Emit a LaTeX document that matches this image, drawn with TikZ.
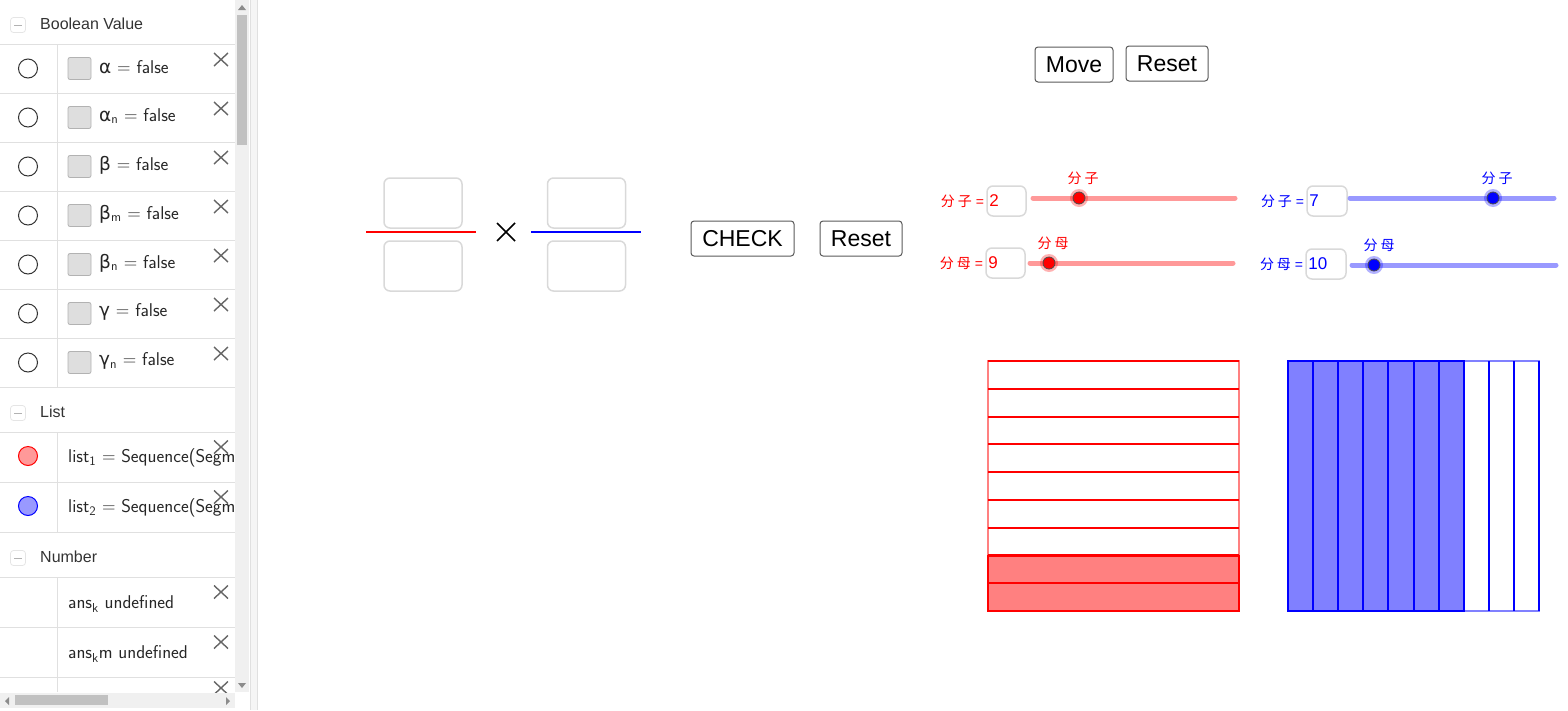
\documentclass[tikz,border=0pt]{standalone}
\usepackage{fontspec}
\setmainfont{Liberation Sans}
\newfontfamily\cjk{Noto Sans CJK SC}
\newfontfamily\grk{DejaVu Sans}
\usetikzlibrary{positioning}

\definecolor{rowline}{HTML}{E0E0E0}
\definecolor{boxline}{HTML}{D9D9D9}
\definecolor{trackgray}{HTML}{F0F0F0}
\definecolor{thumbgray}{HTML}{C1C1C1}
\definecolor{redfill}{HTML}{FF8080}
\definecolor{bluefill}{HTML}{8080FF}
\definecolor{redtrack}{HTML}{FF9999}
\definecolor{bluetrack}{HTML}{9999FF}
\definecolor{darktext}{HTML}{333333}

\tikzset{
  header/.style={anchor=west, inner sep=0pt, text=darktext, font=\fontsize{16}{19}\selectfont},
  formula/.style={anchor=west, inner sep=0pt, text=black!85, font=\sffamily\fontsize{18.5}{21}\selectfont},
  closex/.style={draw=black!60, line width=1.4pt},
  checkbox/.style={draw=black!30, fill=black!13, rounded corners=2pt, line width=0.8pt, minimum width=23pt, minimum height=22pt, inner sep=0pt},
  radio/.style={circle, draw=black!80, line width=1pt, minimum size=19pt, inner sep=0pt},
  minusbox/.style={draw=black!10, rounded corners=3pt, line width=0.8pt, minimum size=15pt, inner sep=0pt},
  inbox/.style={draw=boxline, rounded corners=6pt, line width=1.5pt, inner sep=0pt},
  button/.style={draw=black!65, rounded corners=3pt, line width=1pt, inner sep=0pt, minimum height=35pt, font=\fontsize{23}{26}\selectfont},
  sval/.style={anchor=west, inner sep=0pt, font=\fontsize{17}{20}\selectfont},
  slbl/.style={inner sep=0pt, font=\fontsize{14}{16}\selectfont},
  knob/.style={circle, draw=black!70, line width=0.8pt, minimum size=12pt, inner sep=0pt},
}

\begin{document}
\begin{tikzpicture}[x=1pt,y=-1pt]
\useasboundingbox (0,0) rectangle (1568,710);

% algebra view
\begin{scope}
  \clip (0,0) rectangle (235,692);
  % Boolean Value
  \node[minusbox] (boolmin) at (18,25) {};
  \draw[black!30,line width=1pt] ([xshift=-4pt]boolmin.center) -- ([xshift=4pt]boolmin.center);
  \node[header] (boolhead) at (40,24) {Boolean Value};
  \foreach \y in {44,93,...,387} \draw[rowline,line width=1pt] (0,\y) -- (235,\y);
  \draw[rowline,line width=1pt] (57,44) -- (57,387);
  \foreach \lbl [count=\k from 0] in {{{\grk α}},{{\grk α}\textsubscript{n}},{{\grk β}},{{\grk β}\textsubscript{m}},{{\grk β}\textsubscript{n}},{{\grk γ}},{{\grk γ}\textsubscript{n}}}{
    \pgfmathsetmacro\yc{68.5+49*\k}
    \node[radio] (radio\k) at (28,\yc) {};
    \node[checkbox] (cbox\k) at (79.5,\yc) {};
    \node[formula] (bool\k) at (99,\yc-1.5) {\lbl\ = false};
    \draw[closex] (221,\yc-9) +(-7,-6.5) -- +(7,6.5) +(-7,6.5) -- +(7,-6.5);
  }
  % List
  \node[minusbox] (listmin) at (18,413) {};
  \draw[black!30,line width=1pt] ([xshift=-4pt]listmin.center) -- ([xshift=4pt]listmin.center);
  \node[header] (listhead) at (40,412) {List};
  \foreach \y in {432,482,532} \draw[rowline,line width=1pt] (0,\y) -- (235,\y);
  \draw[rowline,line width=1pt] (57,432) -- (57,532);
  \node[radio, draw=red, fill=redtrack] (list1dot) at (28,456) {};
  \node[radio, draw=blue, fill=bluetrack] (list2dot) at (28,506) {};
  \node[formula] (list1) at (68,458) {list\textsubscript{1} = Sequence(Segment};
  \node[formula] (list2) at (68,508) {list\textsubscript{2} = Sequence(Segment};
  \draw[closex] (221,447) +(-7,-6.5) -- +(7,6.5) +(-7,6.5) -- +(7,-6.5);
  \draw[closex] (221,497) +(-7,-6.5) -- +(7,6.5) +(-7,6.5) -- +(7,-6.5);
  % Number
  \node[minusbox] (nummin) at (18,558) {};
  \draw[black!30,line width=1pt] ([xshift=-4pt]nummin.center) -- ([xshift=4pt]nummin.center);
  \node[header] (numhead) at (40,557) {Number};
  \foreach \y in {577,627,677} \draw[rowline,line width=1pt] (0,\y) -- (235,\y);
  \draw[rowline,line width=1pt] (57,577) -- (57,692);
  \node[formula] (ansk) at (68,604) {ans\textsubscript{k} undefined};
  \node[formula] (anskm) at (68,654) {ans\textsubscript{k}m undefined};
  \foreach \y in {592,642,688}
    \draw[closex] (221,\y) +(-7,-6.5) -- +(7,6.5) +(-7,6.5) -- +(7,-6.5);
\end{scope}

% scroll bars and splitter
\fill[trackgray] (235,0) rectangle (249,692);
\fill[thumbgray] (237,15) rectangle (247,145);
\fill[black!45] (238,10) -- (246,10) -- (242,5) -- cycle;
\fill[black!45] (238,683) -- (246,683) -- (242,688) -- cycle;
\fill[trackgray] (0,693) rectangle (235,708);
\fill[thumbgray] (15,695) rectangle (108,705);
\fill[black!45] (9,697) -- (9,705) -- (5,701) -- cycle;
\fill[black!45] (226,697) -- (226,705) -- (230,701) -- cycle;
\fill[black!4] (250,0) rectangle (257,710);
\draw[rowline] (250,0) -- (250,710);
\draw[rowline] (257.5,0) -- (257.5,710);

% fraction inputs
\node[inbox, minimum width=78pt, minimum height=50pt] (lnum) at (423,203) {};
\node[inbox, minimum width=78pt, minimum height=50pt] (lden) at (423,266) {};
\draw[red, line width=2pt] (366,232) -- (476,232);
\node[inbox, minimum width=78pt, minimum height=50pt] (rnum) at (586.5,203) {};
\node[inbox, minimum width=78pt, minimum height=50pt] (rden) at (586.5,266) {};
\draw[blue, line width=2pt] (531,232) -- (641,232);
\coordinate (times) at (506,232);
\draw[line width=1.5pt] (times) +(-9,-9) -- +(9,9) +(-9,9) -- +(9,-9);

% buttons
\node[button, minimum width=103pt] (check) at (742.5,238.5) {CHECK};
\node[button, minimum width=82pt, right=25pt of check] (resetchk) {Reset};
\node[button, minimum width=78pt] (move) at (1074,64.5) {Move};
\node[button, minimum width=82pt, right=12pt of move, yshift=1pt] (resetmove) {Reset};

% red sliders
\node[inbox, minimum width=39pt, minimum height=30pt] (rnumbox) at (1006.5,201) {};
\node[sval, text=red] (rnumval) at ([xshift=3pt]rnumbox.west) {2};
\node[slbl, text=red, left=2pt of rnumbox] (rnumlbl) {{\cjk 分\hspace{3pt}子} =};
\draw[redtrack, line width=5pt, line cap=round] (1033,198) -- (1235,198);
\fill[red, opacity=0.3] (1079,198) circle (9pt);
\node[knob, fill=red] (rnumknob) at (1079,198) {};
\node[slbl, text=red, above=7pt of rnumknob, xshift=4pt] (rnumtag) {\cjk 分\hspace{3pt}子};

\node[inbox, minimum width=39pt, minimum height=30pt] (rdenbox) at (1005.5,263) {};
\node[sval, text=red] (rdenval) at ([xshift=3pt]rdenbox.west) {9};
\node[slbl, text=red, left=2pt of rdenbox] (rdenlbl) {{\cjk 分\hspace{3pt}母} =};
\draw[redtrack, line width=5pt, line cap=round] (1030,263) -- (1233,263);
\fill[red, opacity=0.3] (1049,263) circle (9pt);
\node[knob, fill=red] (rdenknob) at (1049,263) {};
\node[slbl, text=red, above=7pt of rdenknob, xshift=4pt] (rdentag) {\cjk 分\hspace{3pt}母};

% blue sliders
\node[inbox, minimum width=40pt, minimum height=30pt] (bnumbox) at (1327,201) {};
\node[sval, text=blue] (bnumval) at ([xshift=3pt]bnumbox.west) {7};
\node[slbl, text=blue, left=2pt of bnumbox] (bnumlbl) {{\cjk 分\hspace{3pt}子} =};
\draw[bluetrack, line width=5pt, line cap=round] (1350,198) -- (1554,198);
\fill[blue, opacity=0.3] (1493,198) circle (9pt);
\node[knob, fill=blue] (bnumknob) at (1493,198) {};
\node[slbl, text=blue, above=7pt of bnumknob, xshift=4pt] (bnumtag) {\cjk 分\hspace{3pt}子};

\node[inbox, minimum width=40pt, minimum height=30pt] (bdenbox) at (1326,264) {};
\node[sval, text=blue] (bdenval) at ([xshift=3pt]bdenbox.west) {10};
\node[slbl, text=blue, left=2pt of bdenbox] (bdenlbl) {{\cjk 分\hspace{3pt}母} =};
\draw[bluetrack, line width=5pt, line cap=round] (1352,265) -- (1556,265);
\fill[blue, opacity=0.3] (1374,265) circle (9pt);
\node[knob, fill=blue] (bdenknob) at (1374,265) {};
\node[slbl, text=blue, above=7pt of bdenknob, xshift=5pt] (bdentag) {\cjk 分\hspace{3pt}母};

% area models
\fill[redfill] (988,555.5) rectangle (1239,611);
\draw[red!50, line width=2pt] (988,361) rectangle (1239,611);
\draw[red, line width=2pt] (988,555.5) rectangle (1239,611);
\foreach \j in {0,...,9} \draw[red, line width=2pt] (988,361+27.78*\j) -- (1239,361+27.78*\j);

\fill[bluefill] (1288,361) rectangle (1463.7,611);
\draw[blue!50, line width=2pt] (1288,361) rectangle (1539,611);
\draw[blue, line width=2pt] (1288,361) rectangle (1463.7,611);
\foreach \i in {0,...,10} \draw[blue, line width=2pt] (1288+25.1*\i,361) -- (1288+25.1*\i,611);
\end{tikzpicture}
\end{document}
